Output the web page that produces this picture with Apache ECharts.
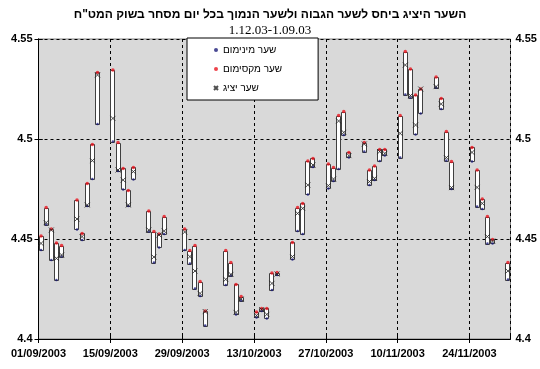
<!DOCTYPE html>
<html><head><meta charset="utf-8">
<script src="https://cdn.jsdelivr.net/npm/echarts@6/dist/echarts.min.js"></script>
<style>html,body{margin:0;padding:0;background:#fff}#c{width:540px;height:369px}</style>
</head><body><div id="c"></div>
<script>
const titleText = 'השער היציג ביחס לשער הגבוה ולשער הנמוך בכל יום מסחר בשוק המט"ח';
const subTitleText = '1.12.03-1.09.03';
const seriesNames = ['שער מינימום', 'שער מקסימום', 'שער יציג'];
const axisStart = '2003-09-01';
const axisDays = 92;
const tickDays = 14;
const yTicks = [4.4, 4.45, 4.5, 4.55];

const dates = ['2003-09-01','2003-09-02','2003-09-03','2003-09-04','2003-09-05',
 '2003-09-08','2003-09-09','2003-09-10','2003-09-11','2003-09-12',
 '2003-09-15','2003-09-16','2003-09-17','2003-09-18','2003-09-19',
 '2003-09-22','2003-09-23','2003-09-24','2003-09-25',
 '2003-09-29','2003-09-30','2003-10-01','2003-10-02','2003-10-03',
 '2003-10-07','2003-10-08','2003-10-09','2003-10-10',
 '2003-10-13','2003-10-14','2003-10-15','2003-10-16','2003-10-17',
 '2003-10-20','2003-10-21','2003-10-22','2003-10-23','2003-10-24',
 '2003-10-27','2003-10-28','2003-10-29','2003-10-30','2003-10-31',
 '2003-11-03','2003-11-04','2003-11-05','2003-11-06','2003-11-07',
 '2003-11-10','2003-11-11','2003-11-12','2003-11-13','2003-11-14',
 '2003-11-17','2003-11-18','2003-11-19','2003-11-20',
 '2003-11-24','2003-11-25','2003-11-26','2003-11-27','2003-11-28',
 '2003-12-01'];
const highRate = [4.4515,4.4657,4.455,4.448,4.4467,
 4.4695,4.4528,4.4778,4.4973,4.5333,
 4.5345,4.4982,4.4853,4.4743,4.4858,
 4.464,4.4537,4.4525,4.4612,
 4.455,4.4442,4.4467,4.4287,4.414,
 4.4442,4.4382,4.4273,4.4212,
 4.4135,4.4153,4.4153,4.433,4.4332,
 4.4483,4.4657,4.4678,4.489,4.4903,
 4.4875,4.4857,4.5117,4.5137,4.4933,
 4.4982,4.4845,4.4865,4.4948,4.4948,
 4.5117,4.5437,4.535,4.522,4.525,
 4.531,4.5203,4.5037,4.4887,
 4.4958,4.4845,4.47,4.4612,4.4498,
 4.4382];
const lowRate = [4.4445,4.4573,4.4395,4.4295,4.4412,
 4.4548,4.4495,4.4665,4.48,4.5075,
 4.4987,4.484,4.4748,4.4665,4.4798,
 4.4537,4.4382,4.4458,4.4525,
 4.4445,4.4377,4.4253,4.4215,4.4067,
 4.427,4.4317,4.4123,4.4192,
 4.4108,4.414,4.4102,4.4245,4.432,
 4.4398,4.454,4.4525,4.4723,4.486,
 4.4753,4.479,4.485,4.502,4.4907,
 4.4937,4.477,4.4795,4.489,4.4917,
 4.4907,4.5223,4.5207,4.5023,4.5128,
 4.5257,4.515,4.4893,4.475,
 4.4887,4.4662,4.465,4.4478,4.4478,
 4.4298];
const repRate = [4.4478,4.4582,4.4545,4.4403,4.442,
 4.46,4.4512,4.467,4.4892,4.532,
 4.5103,4.4845,4.4795,4.467,4.4837,
 4.4545,4.441,4.452,4.454,
 4.4535,4.4412,4.434,4.4228,4.4137,
 4.4298,4.4323,4.4133,4.42,
 4.4118,4.4147,4.4123,4.4278,4.4325,
 4.4412,4.4628,4.4653,4.477,4.487,
 4.4767,4.48,4.509,4.5033,4.4917,
 4.4975,4.4787,4.4803,4.4937,4.4928,
 4.5028,4.537,4.5217,4.507,4.525,
 4.5262,4.5175,4.4907,4.4757,
 4.4933,4.4758,4.4678,4.4512,4.449,
 4.434];

const DAY = 86400000;
const t0 = Date.parse(axisStart);
const dayPos = d => (Date.parse(d) - t0) / DAY + 0.5; // Excel places each day in the middle of its slot
const fmtDate = v => {
  const dt = new Date(t0 + v * DAY);
  const p = n => String(n).padStart(2, '0');
  return p(dt.getUTCDate()) + '/' + p(dt.getUTCMonth() + 1) + '/' + dt.getUTCFullYear();
};
const boxData = dates.map((d, i) => [dayPos(d), highRate[i], lowRate[i]]);
const lowData = dates.map((d, i) => [dayPos(d), lowRate[i]]);
const highData = dates.map((d, i) => [dayPos(d), highRate[i]]);
const repData = dates.map((d, i) => [dayPos(d), repRate[i]]);

const FONT = '"Liberation Sans", "DejaVu Sans", Arial, sans-serif';
const SERIF = '"Liberation Serif", "DejaVu Serif", serif';
const lblStyle = { fontFamily: FONT, fontWeight: 'bold', fontSize: 11, color: '#000' };
const yBase = { type: 'value', min: yTicks[0], max: yTicks[yTicks.length - 1], interval: 0.05 };
const xBase = { type: 'value', min: 0, max: axisDays, interval: tickDays };

const chart = echarts.init(document.getElementById('c'), null, { renderer: 'canvas' });
chart.setOption({
  animation: false,
  backgroundColor: '#fff',
  title: {
    text: titleText, subtext: subTitleText, left: 'center', top: 4, itemGap: 3,
    textStyle: { fontFamily: FONT, fontWeight: 'bold', fontSize: 12, color: '#000' },
    subtextStyle: { fontFamily: SERIF, fontSize: 13, color: '#000' }
  },
  legend: {
    orient: 'vertical', left: 187, top: 38,
    padding: [7, 36, 7, 26], itemGap: 9, itemWidth: 4, itemHeight: 4,
    backgroundColor: '#fff', borderColor: '#000', borderWidth: 1, borderRadius: 0,
    textStyle: { fontFamily: FONT, fontSize: 10, color: '#000' },
    data: seriesNames
  },
  grid: { left: 38.5, right: 29.5, top: 39, bottom: 30, show: true, backgroundColor: '#d9d9d9', borderColor: '#808080', borderWidth: 1 },
  xAxis: [
    Object.assign({}, xBase, {
      position: 'bottom',
      axisLine: { show: true, lineStyle: { color: '#000', width: 1 } },
      axisTick: { show: true, length: 4, lineStyle: { color: '#000' } },
      axisLabel: { formatter: fmtDate, margin: 9, showMaxLabel: false, ...lblStyle },
      splitLine: { show: true, lineStyle: { color: '#000', type: [3, 3], width: 1 } }
    }),
    Object.assign({}, xBase, {
      position: 'bottom',
      axisLine: { show: false }, axisLabel: { show: false }, splitLine: { show: false },
      axisTick: { show: true, inside: true, length: 4, lineStyle: { color: '#000' } }
    })
  ],
  yAxis: [
    Object.assign({}, yBase, {
      position: 'left',
      axisLine: { show: true, lineStyle: { color: '#000' } },
      axisTick: { show: true, length: 4, lineStyle: { color: '#000' } },
      axisLabel: { margin: 6, ...lblStyle },
      splitLine: { show: true, lineStyle: { color: '#000', type: [3, 3], width: 1 } }
    }),
    Object.assign({}, yBase, {
      position: 'right',
      axisLine: { show: true, lineStyle: { color: '#000' } },
      axisTick: { show: true, length: 4, lineStyle: { color: '#000' } },
      axisLabel: { margin: 5, ...lblStyle },
      splitLine: { show: false }
    }),
    Object.assign({}, yBase, {
      position: 'left',
      axisLine: { show: false }, axisLabel: { show: false }, splitLine: { show: false },
      axisTick: { show: true, inside: true, length: 4, lineStyle: { color: '#000' } }
    })
  ],
  series: [
    {
      type: 'custom', name: 'range', data: boxData, z: 2, silent: true,
      renderItem: (params, api) => {
        const top = api.coord([api.value(0), api.value(1)]);
        const bot = api.coord([api.value(0), api.value(2)]);
        return {
          type: 'rect',
          shape: { x: Math.round(top[0] - 2.5) + 0.5, y: Math.round(top[1]) + 0.5, width: 4, height: Math.max(1, Math.round(bot[1] - top[1])) },
          style: { fill: '#fff', stroke: '#404040', lineWidth: 1 }
        };
      }
    },
    {
      type: 'scatter', name: seriesNames[0], data: lowData, z: 3,
      symbol: 'circle', symbolSize: 2.5,
      itemStyle: { color: '#1c1c78' }
    },
    {
      type: 'scatter', name: seriesNames[1], data: highData, z: 3,
      symbol: 'circle', symbolSize: 3.5,
      itemStyle: { color: '#e8141e' }
    },
    {
      type: 'scatter', name: seriesNames[2], data: repData, z: 4,
      symbol: 'path://M0,0L10,10M10,0L0,10', symbolSize: 5,
      itemStyle: { color: 'rgba(0,0,0,0)', borderColor: '#222', borderWidth: 1 }
    }
  ]
});
</script></body></html>
